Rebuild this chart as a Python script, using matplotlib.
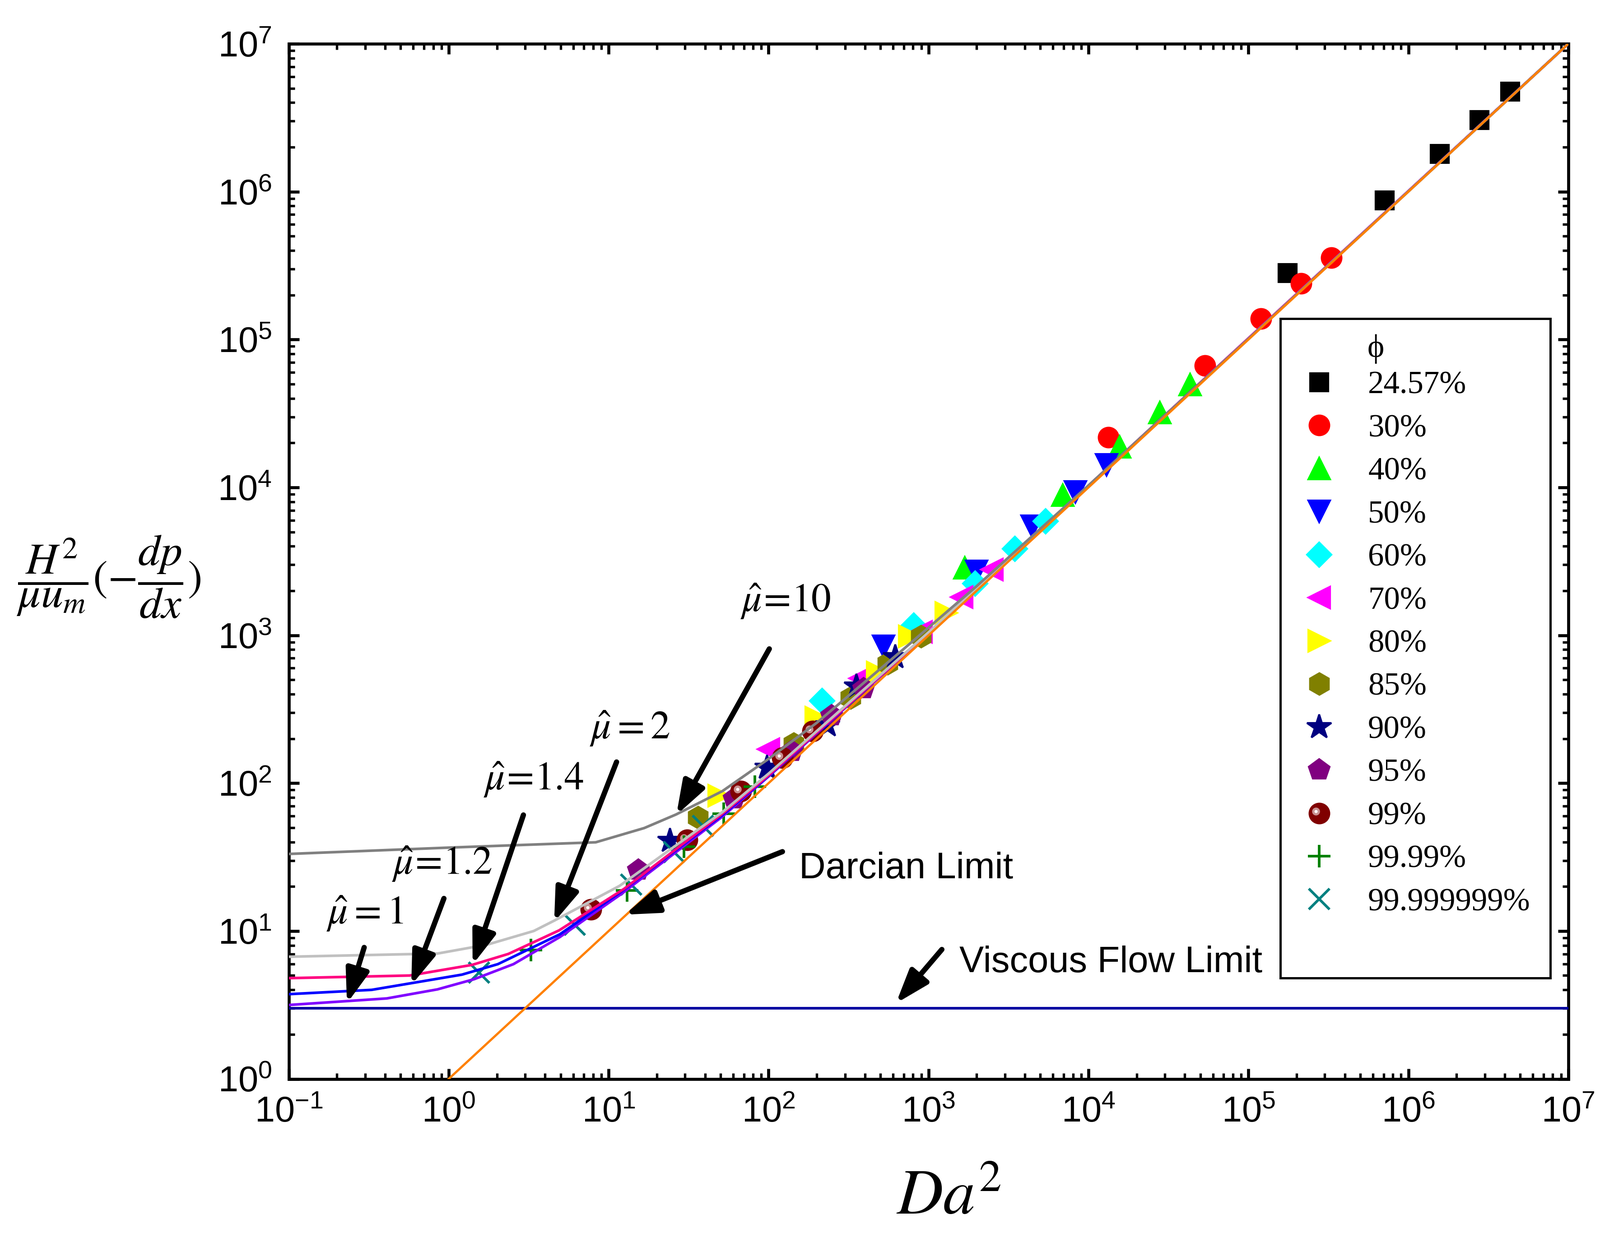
import numpy as np
import matplotlib
matplotlib.use('Agg')
import matplotlib.pyplot as plt
from matplotlib.path import Path
from matplotlib.lines import Line2D
from matplotlib.legend_handler import HandlerTuple
from matplotlib.patches import Rectangle
from matplotlib.ticker import LogLocator, NullFormatter

plt.rcParams['font.family'] = ['Liberation Sans', 'DejaVu Sans']
plt.rcParams['mathtext.fontset'] = 'stix'

# ---- measured points, x = Da^2, y = H^2/(mu u_m)(-dp/dx) ----
p2457_x = [1.76e5, 7.1e5, 1.57e6, 2.79e6, 4.33e6]
p2457_y = [2.82e5, 8.7e5, 1.80e6, 3.04e6, 4.75e6]
p30_x = [1.33e4, 5.36e4, 1.20e5, 2.13e5, 3.31e5]
p30_y = [2.18e4, 6.65e4, 1.38e5, 2.40e5, 3.57e5]
p40_x = [1.69e3, 6.9e3, 1.57e4, 2.79e4, 4.31e4]
p40_y = [2.86e3, 8.9e3, 1.88e4, 3.2e4, 4.95e4]
p50_x = [524, 2.0e3, 4.45e3, 8.3e3, 1.30e4]
p50_y = [845, 2.7e3, 5.45e3, 9.3e3, 1.42e4]
p60_x = [216, 810, 1.96e3, 3.47e3, 5.4e3]
p60_y = [360, 1160, 2.24e3, 3.83e3, 5.9e3]
p70_x = [100, 374, 896, 1.61e3, 2.48e3]
p70_y = [170, 511, 1057, 1.81e3, 2.79e3]
p80_x = [49.1, 198, 479, 760, 1.29e3]
p80_y = [82.5, 278, 561, 985, 1.42e3]
p85_x = [36.1, 143, 326, 556, 896]
p85_y = [58.6, 185, 377, 646, 985]
p90_x = [24.2, 97.5, 233, 355, 621]
p90_y = [40.8, 127, 247, 450, 710]
p95_x = [15.3, 60.7, 140, 248, 392]
p95_y = [25.8, 78.5, 164, 285, 434]
p99_x = [7.76, 31.0, 67.1, 122, 188]
p99_y = [14.0, 41.2, 88.3, 148, 225]
p9999_x = [3.27, 13.0, 29.5, 52.3, 81.9]
p9999_y = [7.46, 18.8, 37.1, 62.1, 94.8]
p999999_x = [1.55, 6.15, 13.8, 25.7, 38.8]
p999999_y = [5.25, 11.0, 20.6, 34.2, 51.5]

phi_labels = ['24.57%', '30%', '40%', '50%', '60%', '70%', '80%', '85%',
              '90%', '95%', '99%', '99.99%', '99.999999%']

# ---- model curves (mu hat) ----
mu10_x = [0.1, 1.04, 8.3, 16.7, 26.4, 51.4, 100, 200, 692, 2000, 1e4, 1e5, 1e6, 1e7]
mu10_y = [33.2, 36.7, 39.8, 49.7, 61.4, 88.3, 146, 256, 800, 2150, 1.03e4, 1.01e5, 1.003e6, 1.001e7]
mu2_x = [0.1, 0.85, 1.75, 3.4, 4.6, 11.7, 51.4, 100, 1e3, 1e4, 1e7]
mu2_y = [6.7, 7.04, 8.1, 10.0, 11.8, 20.2, 63.7, 116, 1046, 1.014e4, 1e7]
mu14_x = [0.1, 0.57, 1.4, 2.36, 4.9, 12.5, 51.4, 100, 1e3, 1e7]
mu14_y = [4.8, 5.0, 5.9, 7.0, 10.1, 19.3, 62.1, 113, 1037, 1e7]
mu12_x = [0.1, 0.33, 1.21, 2.03, 4.95, 12.0, 51.4, 100, 1e3, 1e7]
mu12_y = [3.74, 4.0, 5.07, 5.97, 9.5, 18.5, 61.0, 112, 1035, 1e7]
mu1_x = [0.1, 0.41, 0.85, 1.44, 2.54, 4.95, 12.0, 51.4, 100, 1e3, 1e7]
mu1_y = [3.16, 3.5, 4.03, 4.72, 5.97, 9.1, 17.8, 59.4, 111, 1032, 1e7]

darcy_x = [1, 1e7]
darcy_y = [1, 1e7]
visc_x = [0.1, 1e7]
visc_y = [3, 3]

fig = plt.figure(figsize=(3544 / 300, 2732 / 300), dpi=300)
ax = fig.add_axes([0.1805, 0.125, 0.7997, 0.8395])


def spot(cx, cy, r):
    # small circle inside the marker box; the dummy point keeps the scale fixed
    t = np.linspace(0, 2 * np.pi, 40)
    v = np.vstack([[0, 0.5], [0, 0.5],
                   np.column_stack([cx + r * np.cos(t), cy + r * np.sin(t)])])
    c = [Path.MOVETO, Path.LINETO, Path.MOVETO] + [Path.LINETO] * (len(t) - 1)
    return Path(v, c)


hl = spot(-0.17, 0.1, 0.2)
dot = spot(-0.17, 0.1, 0.08)

series = [
    (p2457_x, p2457_y, dict(marker='s', ms=9.5, color='black')),
    (p30_x, p30_y, dict(marker='o', ms=10.5, color='#FF0000')),
    (p40_x, p40_y, dict(marker='^', ms=11.5, color='#00FF00')),
    (p50_x, p50_y, dict(marker='v', ms=11.5, color='#0000FF')),
    (p60_x, p60_y, dict(marker='D', ms=9, color='#00FFFF')),
    (p70_x, p70_y, dict(marker='<', ms=11.5, color='#FF00FF')),
    (p80_x, p80_y, dict(marker='>', ms=11.5, color='#FFFF00')),
    (p85_x, p85_y, dict(marker='h', ms=11.5, color='#808000')),
    (p90_x, p90_y, dict(marker='*', ms=13.5, color='#000080')),
    (p95_x, p95_y, dict(marker='p', ms=11.5, color='#800080')),
    (p99_x, p99_y, dict(marker='o', ms=10.5, color='#800000')),
    (p9999_x, p9999_y, dict(marker='+', ms=12, mew=1.4, color='#008000')),
    (p999999_x, p999999_y, dict(marker='x', ms=11, mew=1.4, color='#008080')),
]

handles = []
for (xs, ys, st), lab in zip(series, phi_labels):
    kw = {k: v for k, v in st.items() if k != 'color'}
    ax.plot(xs, ys, ls='none', mec=st['color'], mfc=st['color'], zorder=2, **kw)
    h = Line2D([], [], ls='none', mec=st['color'], mfc=st['color'], **kw)
    if lab == '99%':
        ax.plot(xs, ys, ls='none', marker=hl, ms=10.5, mfc='#C89090', mec='none', zorder=2)
        ax.plot(xs, ys, ls='none', marker=dot, ms=10.5, mfc='white', mec='none', zorder=2)
        h = (h,
             Line2D([], [], ls='none', marker=hl, ms=10.5, mfc='#C89090', mec='none'),
             Line2D([], [], ls='none', marker=dot, ms=10.5, mfc='white', mec='none'))
    handles.append(h)

lw = 1.4
ax.plot(visc_x, visc_y, color='#0000A0', lw=lw, zorder=3)
ax.plot(mu1_x, mu1_y, color='#8000FF', lw=lw, zorder=3)
ax.plot(mu12_x, mu12_y, color='#0000FF', lw=lw, zorder=3)
ax.plot(mu14_x, mu14_y, color='#FF0080', lw=lw, zorder=3)
ax.plot(mu2_x, mu2_y, color='#C0C0C0', lw=lw, zorder=3)
ax.plot(mu10_x, mu10_y, color='#808080', lw=lw, zorder=3)
ax.plot(darcy_x, darcy_y, color='#FF8000', lw=1.2, zorder=3)

ax.set_xscale('log')
ax.set_yscale('log')
ax.set_xlim(0.1, 1e7)
ax.set_ylim(1, 1e7)
for a in (ax.xaxis, ax.yaxis):
    a.set_major_locator(LogLocator(base=10, numticks=20))
    a.set_minor_locator(LogLocator(base=10, subs=np.arange(2, 10), numticks=200))
    a.set_minor_formatter(NullFormatter())
ax.tick_params(which='both', direction='in', top=True, right=True, labelsize=19)
ax.tick_params(which='major', length=5.5, width=1.6, pad=9)
ax.tick_params(which='minor', length=3.2, width=1.3)
for s in ax.spines.values():
    s.set_linewidth(1.6)

# annotations
arrow_kw = dict(arrowstyle='-|>,head_length=0.75,head_width=0.26', lw=2.8,
                color='black', shrinkA=0, shrinkB=0, mutation_scale=20)
mu_notes = [
    (r'$\hat{\mu}\!=\!10$', (128, 1703), (101, 809), (26.5, 60.9)),
    (r'$\hat{\mu}=2$', (13.5, 234), (11.2, 139), (4.56, 11.5)),
    (r'$\hat{\mu}\!=\!1.4$', (3.40, 106), (2.93, 60.9), (1.41, 5.91)),
    (r'$\hat{\mu}\!=\!1.2$', (0.906, 28.4), (0.933, 16.6), (0.583, 4.30)),
    (r'$\hat{\mu}=1$', (0.30, 13.1), (0.296, 7.74), (0.231, 3.24)),
]
for txt, pos, tail, head in mu_notes:
    ax.text(pos[0], pos[1], txt, fontsize=21, ha='center', va='center', zorder=4)
    ax.annotate('', xy=head, xytext=tail, arrowprops=arrow_kw, zorder=4)

ax.text(155, 26.3, 'Darcian Limit', fontsize=19.5, ha='left', va='center', zorder=4)
ax.annotate('', xy=(12.6, 12.9), xytext=(122, 34.4), arrowprops=arrow_kw, zorder=4)
ax.text(1554, 6.10, 'Viscous Flow Limit', fontsize=19.5, ha='left', va='center', zorder=4)
ax.annotate('', xy=(625, 3.24), xytext=(1211, 7.5), arrowprops=arrow_kw, zorder=4)

# legend
ax.add_patch(Rectangle((0.775, 0.0974), 0.211, 0.637, transform=ax.transAxes,
                       facecolor='white', edgecolor='black', lw=1.2, zorder=5))
ax.text(0.843, 0.705, '\u03d5', transform=ax.transAxes, fontsize=17,
        family=['Liberation Serif', 'DejaVu Serif'], ha='left', va='center', zorder=6)
leg = ax.legend(handles, phi_labels, loc='upper left', bbox_to_anchor=(0.7885, 0.684),
                frameon=False, prop=dict(family='Liberation Serif', size=17),
                handlelength=1.35, handletextpad=0.85, labelspacing=0.43,
                borderpad=0, borderaxespad=0,
                handler_map={tuple: HandlerTuple(ndivide=1, pad=0)})
leg.set_zorder(6)

fig.text(0.593, 0.029, r'$Da^2$', fontsize=34, ha='center', va='center')
fig.text(0.068, 0.532, r'$\dfrac{H^2}{\mu u_m}(-\dfrac{dp}{dx})$', fontsize=23.5,
         ha='center', va='center')

fig.savefig('out.png', dpi=300)
